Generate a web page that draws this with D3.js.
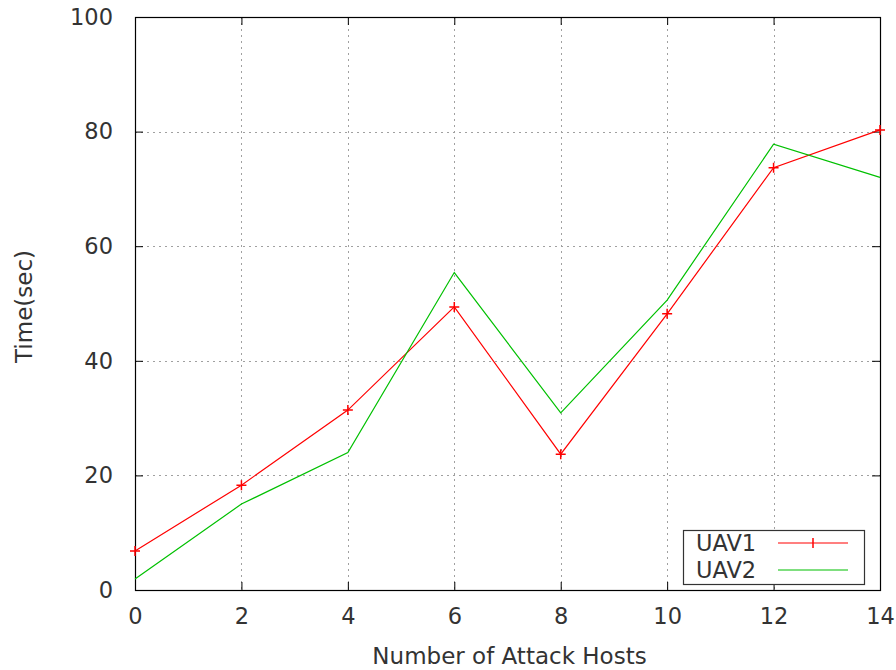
<!DOCTYPE html>
<html><head><meta charset="utf-8">
<script src="https://cdn.jsdelivr.net/npm/d3@7"></script>
<style>body{margin:0;background:#fff}svg{display:block}text{font-family:"DejaVu Sans",sans-serif;fill:#333}</style>
</head><body>
<script>
const hosts = [0, 2, 4, 6, 8, 10, 12, 14];
const uav1 = [6.8, 18.3, 31.4, 49.4, 23.7, 48.2, 73.7, 80.3];
const uav2 = [1.9, 15.0, 24.0, 55.4, 30.9, 50.6, 77.8, 72.0];
const xTicks = [0, 2, 4, 6, 8, 10, 12, 14];
const yTicks = [0, 20, 40, 60, 80, 100];
const seriesNames = ["UAV1", "UAV2"];
const colors = ["#ff0000", "#00c000"];

const W = 896, H = 670;
const L = 135, R = 880, T = 17, B = 590;
const svg = d3.select("body").append("svg").attr("width", W).attr("height", H);
const x = d3.scaleLinear().domain([0, 14]).range([L, R]);
const y = d3.scaleLinear().domain([0, 100]).range([B, T]);
const fs = 22.5;

// grid
const g = svg.append("g").attr("stroke", "#a0a0a0").attr("stroke-width", 1).attr("stroke-dasharray", "2,4");
g.selectAll("line.v").data(xTicks.slice(1, -1)).join("line")
  .attr("x1", d => Math.round(x(d)) + 0.5).attr("x2", d => Math.round(x(d)) + 0.5)
  .attr("y1", T).attr("y2", B);
g.selectAll("line.h").data(yTicks.slice(1, -1)).join("line")
  .attr("x1", L).attr("x2", R)
  .attr("y1", d => Math.round(y(d)) + 0.5).attr("y2", d => Math.round(y(d)) + 0.5);

// axes with inward ticks
const tk = 8;
const axB = svg.append("g").attr("transform", `translate(0,${B})`)
  .call(d3.axisBottom(x).tickValues(xTicks).tickSize(-tk).tickPadding(18).tickFormat(d3.format("d")));
const axT = svg.append("g").attr("transform", `translate(0,${T})`)
  .call(d3.axisTop(x).tickValues(xTicks).tickSize(-tk).tickFormat(""));
const axL = svg.append("g").attr("transform", `translate(${L},0)`)
  .call(d3.axisLeft(y).tickValues(yTicks).tickSize(-tk).tickPadding(22).tickFormat(d3.format("d")));
const axR = svg.append("g").attr("transform", `translate(${R},0)`)
  .call(d3.axisRight(y).tickValues(yTicks).tickSize(-tk).tickFormat(""));
[axB, axT, axL, axR].forEach(a => {
  a.select(".domain").remove();
  a.selectAll(".tick line").attr("stroke", "#000");
  a.selectAll("text").attr("font-size", fs).attr("font-family", "DejaVu Sans").attr("fill", "#333");
});
svg.append("rect").attr("x", L + 0.5).attr("y", T + 0.5).attr("width", R - L).attr("height", B - T)
  .attr("fill", "none").attr("stroke", "#000").attr("stroke-width", 1.2);

// lines
const line = d3.line().x((d, i) => x(hosts[i])).y(d => y(d));
[uav1, uav2].forEach((s, k) => {
  svg.append("path").datum(s).attr("d", line).attr("fill", "none")
    .attr("stroke", colors[k]).attr("stroke-width", 1.2);
});
const m = 5;
svg.append("g").selectAll("path").data(uav1).join("path")
  .attr("d", (d, i) => `M${x(hosts[i]) - m},${y(d)}h${2 * m}M${x(hosts[i])},${y(d) - m}v${2 * m}`)
  .attr("stroke", colors[0]).attr("stroke-width", 1.5);

// legend
const lg = svg.append("g");
lg.append("rect").attr("x", 683.5).attr("y", 530.5).attr("width", 181).attr("height", 54)
  .attr("fill", "#fff").attr("stroke", "#333").attr("stroke-width", 1.2);
seriesNames.forEach((n, k) => {
  const yy = 543 + k * 27;
  lg.append("text").attr("x", 696).attr("y", yy).attr("dy", "0.35em").attr("font-size", fs).text(n);
  lg.append("line").attr("x1", 778).attr("x2", 848).attr("y1", yy).attr("y2", yy)
    .attr("stroke", colors[k]).attr("stroke-width", 1.2);
  if (k === 0) lg.append("path").attr("d", `M${813},${yy - m}v${2 * m}`).attr("stroke", colors[0]).attr("stroke-width", 1.5);
});

// titles
svg.append("text").attr("x", (L + R) / 2 + 2).attr("y", 656).attr("dy", "0.35em")
  .attr("text-anchor", "middle").attr("font-size", 23).text("Number of Attack Hosts");
svg.append("text").attr("transform", `translate(24,${(T + B) / 2 + 3}) rotate(-90)`)
  .attr("dy", "0.35em").attr("text-anchor", "middle").attr("font-size", 23).text("Time(sec)");
</script>
</body></html>
